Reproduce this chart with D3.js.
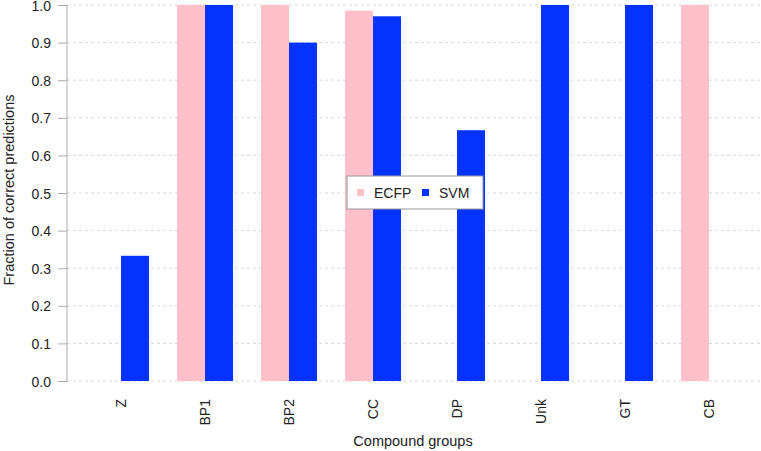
<!DOCTYPE html>
<html>
<head>
<meta charset="utf-8">
<script src="https://cdn.jsdelivr.net/npm/d3@7"></script>
<style>
  body { margin: 0; background: #fff; }
  svg { font-family: "Liberation Sans", Arial, sans-serif; }
</style>
</head>
<body>
<div id="chart"></div>
<script>
// data
var groups = ["Z", "BP1", "BP2", "CC", "DP", "Unk", "GT", "CB"];
var series = ["ECFP", "SVM"];
var ecfp = [0, 1, 1, 0.985, 0, 0, 0, 1];
var svm = [0.333, 1, 0.9, 0.97, 0.667, 1, 1, 0];
var yTicks = [0, 0.1, 0.2, 0.3, 0.4, 0.5, 0.6, 0.7, 0.8, 0.9, 1.0];
var colors = ["#ffc0cb", "#0433ff"];

var W = 761, H = 451;

var svg = d3.select("#chart").append("svg")
    .attr("width", W)
    .attr("height", H);

var y = d3.scaleLinear().domain([0, 1]).range([381, 5]);

var x = d3.scaleBand()
    .domain(groups)
    .range([79, 751])
    .paddingInner(1 / 3)
    .paddingOuter(1 / 6);

var xs = d3.scaleBand()
    .domain(series)
    .range([0, x.bandwidth()]);

// dashed grid
svg.append("g")
  .selectAll("line")
  .data(yTicks)
  .enter().append("line")
    .attr("x1", 67).attr("x2", W)
    .attr("y1", function(d) { return y(d); })
    .attr("y2", function(d) { return y(d); })
    .attr("stroke", "#d9d9d9")
    .attr("stroke-dasharray", "3,3");

// bars
var rows = groups.map(function(g, i) {
  return {group: g, vals: [ecfp[i], svm[i]]};
});

svg.append("g")
  .selectAll("g")
  .data(rows)
  .enter().append("g")
    .attr("transform", function(d) { return "translate(" + x(d.group) + ",0)"; })
  .selectAll("rect")
  .data(function(d) { return d.vals.map(function(v, j) { return {s: series[j], v: v, c: colors[j]}; }); })
  .enter().append("rect")
    .attr("x", function(d) { return xs(d.s); })
    .attr("width", xs.bandwidth())
    .attr("y", function(d) { return y(d.v); })
    .attr("height", function(d) { return y(0) - y(d.v); })
    .attr("fill", function(d) { return d.c; });

// y axis
var yAxis = svg.append("g")
    .attr("transform", "translate(67,0)")
    .call(d3.axisLeft(y).tickValues(yTicks).tickSize(9).tickPadding(7).tickFormat(d3.format(".1f")));
yAxis.select(".domain").attr("stroke", "#aaa").attr("d", "M0," + y(0) + "V" + y(1));
yAxis.selectAll(".tick line").attr("stroke", "#aaa");
yAxis.selectAll(".tick text")
    .attr("fill", "#222")
    .style("font-size", "14px")
    .attr("dy", "0.36em");

// x labels, rotated
var xAxis = svg.append("g")
    .attr("transform", "translate(0,399)")
    .call(d3.axisBottom(x).tickSize(0).tickPadding(0));
xAxis.select(".domain").remove();
xAxis.selectAll(".tick text")
    .attr("fill", "#222")
    .style("font-size", "14px")
    .attr("text-anchor", "end")
    .attr("transform", "rotate(-90)")
    .attr("x", 0)
    .attr("y", 0)
    .attr("dy", "0.36em");

// titles
svg.append("text")
    .attr("x", 413).attr("y", 446)
    .attr("text-anchor", "middle")
    .style("font-size", "14.5px")
    .attr("fill", "#222")
    .text("Compound groups");

svg.append("text")
    .attr("transform", "translate(14,190) rotate(-90)")
    .attr("text-anchor", "middle")
    .style("font-size", "14.5px")
    .attr("fill", "#222")
    .text("Fraction of correct predictions");

// legend
var lg = svg.append("g").attr("transform", "translate(347,176)");
lg.append("rect")
    .attr("width", 136).attr("height", 33)
    .attr("fill", "#fff")
    .attr("stroke", "#999");
var items = lg.selectAll(".item")
  .data(series)
  .enter().append("g")
    .attr("transform", function(d, i) { return "translate(" + (10 + i * 65) + ",0)"; });
items.append("rect")
    .attr("y", 13).attr("width", 7).attr("height", 7)
    .attr("fill", function(d, i) { return colors[i]; });
items.append("text")
    .attr("x", 17).attr("y", 17)
    .attr("dy", "0.36em")
    .style("font-size", "14px")
    .attr("fill", "#222")
    .text(function(d) { return d; });
</script>
</body>
</html>
